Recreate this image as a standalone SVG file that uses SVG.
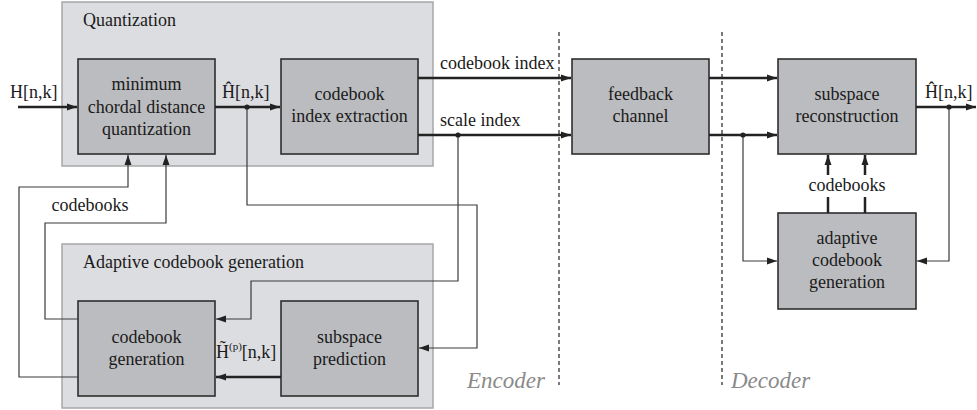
<svg xmlns="http://www.w3.org/2000/svg" width="977" height="410" viewBox="0 0 977 410">
<style>
.outer{fill:#dcdde0;stroke:#a6a7aa;stroke-width:1.5}
.node{fill:#bbbcbf;stroke:#2e2e2e;stroke-width:1.6}
text{font-size:18px;fill:#1a1a1a}
.c{text-anchor:middle}
.thick{fill:none;stroke:#222;stroke-width:2.5}
.thin{fill:none;stroke:#3a3a3a;stroke-width:1.2}
.dash{fill:none;stroke:#333;stroke-width:1.3;stroke-dasharray:4,3}
.lab{font-style:italic;font-size:23px;fill:#8a8a8a}
</style>
<defs>
<marker id="a" markerUnits="userSpaceOnUse" markerWidth="11" markerHeight="8" refX="10" refY="4" orient="auto">
<path d="M0,0.5 L10,4 L0,7.5 z" fill="#222"/>
</marker>
</defs>
<g font-family="Liberation Serif, DejaVu Serif, serif">
<g id="quantization-group">
<rect class="outer" x="62" y="2" width="371" height="164"/>
<text x="83" y="26">Quantization</text>
</g>
<g id="adaptive-group">
<rect class="outer" x="62" y="244" width="371" height="164"/>
<text x="83" y="268">Adaptive codebook generation</text>
</g>
<g id="min-chordal">
<rect class="node" x="78" y="59" width="137" height="95"/>
<text class="c" x="146.5" y="90">minimum</text>
<text class="c" x="146.5" y="113">chordal distance</text>
<text class="c" x="146.5" y="135">quantization</text>
</g>
<g id="index-extraction">
<rect class="node" x="281" y="59" width="137" height="95"/>
<text class="c" x="349.5" y="100">codebook</text>
<text class="c" x="349.5" y="122">index extraction</text>
</g>
<g id="feedback-channel">
<rect class="node" x="572" y="59" width="137" height="95"/>
<text class="c" x="640.5" y="100">feedback</text>
<text class="c" x="640.5" y="122">channel</text>
</g>
<g id="subspace-reconstruction">
<rect class="node" x="778" y="59" width="138" height="95"/>
<text class="c" x="847" y="100">subspace</text>
<text class="c" x="847" y="122">reconstruction</text>
</g>
<g id="decoder-adaptive">
<rect class="node" x="778" y="213" width="138" height="96"/>
<text class="c" x="847" y="244">adaptive</text>
<text class="c" x="847" y="266">codebook</text>
<text class="c" x="847" y="288">generation</text>
</g>
<g id="codebook-generation">
<rect class="node" x="78" y="301" width="137" height="95"/>
<text class="c" x="146.5" y="343">codebook</text>
<text class="c" x="146.5" y="365">generation</text>
</g>
<g id="subspace-prediction">
<rect class="node" x="281" y="301" width="137" height="95"/>
<text class="c" x="349.5" y="343">subspace</text>
<text class="c" x="349.5" y="365">prediction</text>
</g>
<g id="connectors">
<path class="dash" d="M559,32 V385"/>
<path class="dash" d="M722,32 V385"/>
<path class="thick" d="M18,107 H77" marker-end="url(#a)"/>
<path class="thick" d="M215,107 H280" marker-end="url(#a)"/>
<path class="thick" d="M418,78 H571" marker-end="url(#a)"/>
<path class="thick" d="M418,135 H571" marker-end="url(#a)"/>
<path class="thick" d="M709,78 H777" marker-end="url(#a)"/>
<path class="thick" d="M709,135 H777" marker-end="url(#a)"/>
<path class="thick" d="M916,107 H976" marker-end="url(#a)"/>
<path class="thick" d="M828,213 V197"/>
<path class="thick" d="M828,175 V155" marker-end="url(#a)"/>
<path class="thick" d="M865,213 V197"/>
<path class="thick" d="M865,175 V155" marker-end="url(#a)"/>
<path class="thin" d="M743,135 V261 H777" marker-end="url(#a)"/>
<path class="thin" d="M949,107 V261 H917" marker-end="url(#a)"/>
<path class="thin" d="M78,319 H45 V223 H166 V155" marker-end="url(#a)"/>
<path class="thin" d="M78,377 H19 V187 H128 V155" marker-end="url(#a)"/>
<path class="thin" d="M247,107 V205 H477 V348 H419" marker-end="url(#a)"/>
<path class="thin" d="M458,135 V281 H251 V319 H216" marker-end="url(#a)"/>
<path class="thick" d="M281,377 H216" marker-end="url(#a)"/>
<circle cx="247" cy="107" r="2.6" fill="#222"/>
<circle cx="458" cy="135" r="2.6" fill="#222"/>
<circle cx="743" cy="135" r="2.6" fill="#222"/>
<circle cx="949" cy="107" r="2.6" fill="#222"/>
</g>
<g id="labels">
<text x="10" y="98">H[n,k]</text>
<text x="222" y="98">Ĥ[n,k]</text>
<text x="925" y="98">Ĥ[n,k]</text>
<text x="440" y="69">codebook index</text>
<text x="440" y="126">scale index</text>
<text class="c" x="847" y="191">codebooks</text>
<text class="c" x="90" y="211">codebooks</text>
<text x="216" y="358">H̃<tspan font-size="11" dy="-8">(p)</tspan><tspan dy="8">[n,k]</tspan></text>
<text class="lab" x="467" y="388">Encoder</text>
<text class="lab" x="731" y="388">Decoder</text>
</g>
</g>
</svg>
